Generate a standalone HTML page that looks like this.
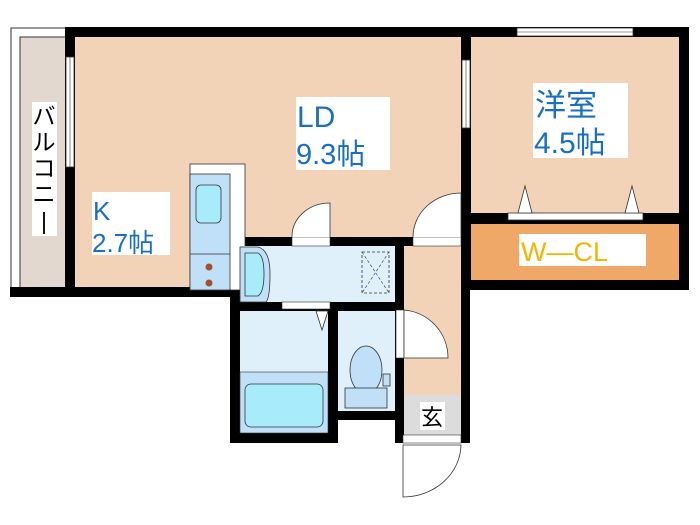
<!DOCTYPE html>
<html><head><meta charset="utf-8"><style>
html,body{margin:0;padding:0;background:#fff;width:700px;height:525px;overflow:hidden}
svg{display:block}
text{font-family:"Liberation Sans","Noto Sans CJK JP",sans-serif}
</style></head><body>
<svg width="700" height="525" viewBox="0 0 700 525" xmlns="http://www.w3.org/2000/svg">
<rect x="11" y="28" width="56" height="268" fill="#fff" stroke="#333" stroke-width="1"/>
<rect x="20" y="37" width="46" height="253" fill="#e2d8d0" stroke="#333" stroke-width="1"/>
<rect x="70" y="32" width="396" height="260" fill="#f2d3b8"/>
<rect x="466" y="32" width="218" height="186" fill="#f2d3b8"/>
<rect x="471" y="224" width="208" height="56" fill="#f0a868"/>
<rect x="404" y="246" width="57" height="150" fill="#f2d3b8"/>
<rect x="404" y="395" width="57" height="40" fill="#dcdcdc"/>
<g fill="#000">
<rect x="65" y="27" width="624" height="10"/>
<rect x="65" y="27" width="10" height="270"/>
<rect x="10" y="287" width="225" height="10"/>
<rect x="461" y="27" width="10" height="263"/>
<rect x="679" y="27" width="10" height="263"/>
<rect x="461" y="213" width="228" height="11"/>
<rect x="461" y="280" width="228" height="10"/>
<rect x="230" y="237" width="174" height="9"/>
<rect x="404" y="237" width="66" height="9"/>
<rect x="230" y="237" width="10" height="206"/>
<rect x="395" y="237" width="9" height="206"/>
<rect x="461" y="237" width="9" height="206"/>
<rect x="230" y="302" width="174" height="9"/>
<rect x="328" y="302" width="10" height="141"/>
<rect x="230" y="433" width="108" height="10"/>
<rect x="338" y="411" width="57" height="9"/>
</g>
<rect x="66" y="57" width="8" height="110" fill="#fff" stroke="#333" stroke-width="0.8"/>
<line x1="70" y1="57" x2="70" y2="167" stroke="#333" stroke-width="0.6"/>
<rect x="462" y="60" width="8" height="68" fill="#fff" stroke="#333" stroke-width="0.8"/>
<line x1="466" y1="60" x2="466" y2="128" stroke="#333" stroke-width="0.6"/>
<rect x="517" y="28" width="116" height="8" fill="#fff" stroke="#333" stroke-width="0.8"/>
<line x1="517" y1="32" x2="633" y2="32" stroke="#333" stroke-width="0.6"/>
<rect x="508" y="213" width="135" height="7" fill="#fff" stroke="#333" stroke-width="0.8"/>
<polygon points="518,213 525,186 532,213" fill="#fff" stroke="#333" stroke-width="0.8"/>
<polygon points="625,213 632,186 639,213" fill="#fff" stroke="#333" stroke-width="0.8"/>
<rect x="190" y="164" width="55" height="126" fill="#fff" stroke="#333" stroke-width="0.8"/>
<rect x="190" y="174" width="40" height="116" fill="#bfe0f7" stroke="#333" stroke-width="0.8"/>
<line x1="190" y1="254" x2="230" y2="254" stroke="#333" stroke-width="0.8"/>
<rect x="196" y="185" width="25" height="38" rx="5" fill="#a8ecfb" stroke="#333" stroke-width="0.8"/>
<circle cx="209" cy="267" r="3.5" fill="#a0522d"/>
<circle cx="209" cy="283" r="3.5" fill="#a0522d"/>
<rect x="240" y="246" width="155" height="56" fill="#dff0fb"/>
<path d="M240,247 H258 Q270,250 270,274 Q270,298 266,302 H240 Z" fill="#bfe0f7" stroke="#333" stroke-width="0.8"/>
<path d="M245,253 H258 Q264,256 264,274 Q264,292 258,296 H245 Z" fill="#a8ecfb" stroke="#333" stroke-width="0.8"/>
<rect x="362" y="252" width="27" height="41" fill="none" stroke="#333" stroke-width="0.8" stroke-dasharray="3,2"/>
<path d="M362,252 L389,293 M389,252 L362,293" stroke="#333" stroke-width="0.6" stroke-dasharray="3,2"/>
<rect x="240" y="311" width="88" height="122" fill="#dff0fb"/>
<rect x="240" y="372" width="88" height="61" fill="#bfe0f7" stroke="#333" stroke-width="0.6"/>
<rect x="245" y="384" width="78" height="43" rx="6" fill="#a8ecfb" stroke="#333" stroke-width="0.8"/>
<rect x="282" y="302" width="48" height="7" fill="#fff" stroke="#333" stroke-width="0.6"/>
<polygon points="316,311 322,330 328,311" fill="#fff" stroke="#333" stroke-width="0.8"/>
<rect x="338" y="311" width="57" height="100" fill="#dff0fb"/>
<ellipse cx="366" cy="370" rx="16" ry="24" fill="#bfe0f7" stroke="#333" stroke-width="0.8"/>
<rect x="345" y="388" width="42" height="20" fill="#bfe0f7" stroke="#333" stroke-width="0.8"/>
<rect x="383" y="374" width="7" height="12" fill="#bfe0f7" stroke="#333" stroke-width="0.8"/>
<rect x="292" y="237" width="38" height="9" fill="#fff" stroke="#333" stroke-width="0.6"/>
<path d="M292,237 A38,33 0 0 1 330,203 V237" fill="#fff" stroke="#333" stroke-width="0.8"/>
<rect x="413" y="237" width="48" height="9" fill="#fff" stroke="#333" stroke-width="0.6"/>
<path d="M413,237 A48,44 0 0 1 461,193 V237" fill="#fff" stroke="#333" stroke-width="0.8"/>
<rect x="396" y="310" width="8" height="48" fill="#fff" stroke="#333" stroke-width="0.6"/>
<path d="M404,310 A48,48 0 0 1 448,358 H404 Z" fill="#fff" stroke="#333" stroke-width="0.8"/>
<rect x="403" y="435" width="58" height="8" fill="#fff" stroke="#333" stroke-width="0.6"/>
<path d="M403,445 H461 A58,53 0 0 1 403,497 Z" fill="#fff" stroke="#333" stroke-width="0.8"/>
<rect x="296" y="97" width="94" height="73" fill="#fff"/>
<text x="297" y="127" font-size="30" fill="#1a6fc4">LD</text>
<text x="296" y="164" font-size="29" fill="#1a6fc4">9.3帖</text>
<rect x="92" y="192" width="78" height="63" fill="#fff"/>
<text x="93" y="220" font-size="26" fill="#1a6fc4">K</text>
<text x="92" y="252" font-size="26" fill="#1a6fc4">2.7帖</text>
<rect x="533" y="83" width="95" height="75" fill="#fff"/>
<text x="535" y="116" font-size="31" fill="#1a6fc4">洋室</text>
<text x="534" y="153" font-size="30" fill="#1a6fc4">4.5帖</text>
<rect x="32" y="102" width="25" height="134" fill="#fff"/>
<text font-size="23" fill="#000" text-anchor="middle">
<tspan x="44" y="124">バ</tspan><tspan x="44" y="150">ル</tspan><tspan x="44" y="176">コ</tspan><tspan x="44" y="202">ニ</tspan><tspan x="44" y="229">|</tspan></text>
<rect x="519" y="234" width="127" height="32" fill="#fff"/>
<text x="521" y="261" font-size="27" fill="#f5b400">W—CL</text>
<rect x="420" y="402" width="25" height="28" fill="#fff"/>
<text x="421" y="425" font-size="22" fill="#000">玄</text>
</svg>
</body></html>
